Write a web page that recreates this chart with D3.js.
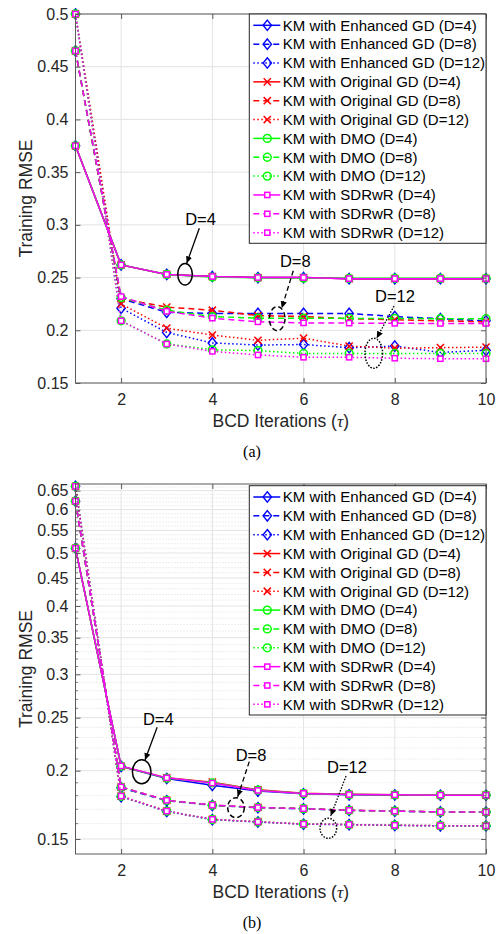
<!DOCTYPE html>
<html><head><meta charset="utf-8">
<script src="https://cdn.jsdelivr.net/npm/d3@7"></script>
<style>body{margin:0;background:#fff;} svg{display:block;}</style>
</head><body>
<svg id="c" width="503" height="934"></svg>
<script>
// ---------------- DATA ----------------
const iterations = [1,2,3,4,5,6,7,8,9,10];
const xTicks = [2,4,6,8,10];
const topYTicks = [0.15,0.2,0.25,0.3,0.35,0.4,0.45,0.5];
const botYTicks = [0.15,0.2,0.25,0.3,0.35,0.4,0.45,0.5,0.55,0.6,0.65];
const methods = ["Enhanced GD","Original GD","DMO","SDRwR"];
const depths = [4,8,12];

// (a) linear axis
const a_enh_d4  = [0.375,0.262,0.253,0.251,0.250,0.250,0.249,0.249,0.249,0.249];
const a_enh_d8  = [0.465,0.230,0.217,0.216,0.216,0.216,0.216,0.213,0.211,0.209];
const a_enh_d12 = [0.500,0.221,0.198,0.188,0.186,0.1865,0.1835,0.185,0.179,0.181];
const a_org_d4  = [0.375,0.262,0.253,0.251,0.250,0.250,0.249,0.249,0.249,0.249];
const a_org_d8  = [0.465,0.230,0.222,0.219,0.214,0.213,0.211,0.210,0.209,0.208];
const a_org_d12 = [0.500,0.225,0.202,0.1955,0.1905,0.1925,0.185,0.183,0.1835,0.184];
const a_dmo_d4  = [0.375,0.262,0.253,0.2505,0.2498,0.2495,0.2493,0.2493,0.2493,0.2493];
const a_dmo_d8  = [0.465,0.231,0.219,0.213,0.2115,0.2114,0.2113,0.2112,0.211,0.211];
const a_dmo_d12 = [0.500,0.209,0.187,0.1815,0.1807,0.178,0.178,0.178,0.178,0.178];
const a_sdr_d4  = [0.375,0.262,0.253,0.251,0.250,0.250,0.249,0.249,0.249,0.249];
const a_sdr_d8  = [0.465,0.232,0.218,0.2115,0.208,0.207,0.2068,0.2066,0.2065,0.2065];
const a_sdr_d12 = [0.500,0.209,0.187,0.180,0.1766,0.1744,0.1744,0.1735,0.173,0.173];

// (b) log axis
const b_enh_d4  = [0.510,0.2036,0.1935,0.188,0.1835,0.1814,0.1806,0.1805,0.1803,0.1803];
const b_enh_d8  = [0.622,0.1860,0.1762,0.1728,0.1711,0.1703,0.1692,0.1686,0.1681,0.1680];
const b_enh_d12 = [0.662,0.1792,0.1684,0.1627,0.1611,0.1596,0.1593,0.1588,0.1585,0.1584];
const b_org_d4  = [0.510,0.2036,0.1940,0.1905,0.1845,0.1818,0.1810,0.1806,0.1804,0.1804];
const b_org_d8  = [0.622,0.1866,0.1765,0.1730,0.1713,0.1705,0.1693,0.1687,0.1681,0.1680];
const b_org_d12 = [0.662,0.1796,0.1687,0.1629,0.1613,0.1598,0.1594,0.1589,0.1586,0.1585];
const b_dmo_d4  = [0.510,0.2038,0.1938,0.1900,0.1842,0.1816,0.1808,0.1806,0.1804,0.1804];
const b_dmo_d8  = [0.622,0.1865,0.1764,0.1729,0.1712,0.1704,0.1692,0.1686,0.1681,0.1680];
const b_dmo_d12 = [0.662,0.1795,0.1686,0.1628,0.1612,0.1597,0.1594,0.1589,0.1586,0.1585];
const b_sdr_d4  = [0.510,0.2040,0.1940,0.1898,0.1840,0.1817,0.1808,0.1806,0.1804,0.1804];
const b_sdr_d8  = [0.622,0.1867,0.1765,0.1730,0.1712,0.1704,0.1692,0.1686,0.1681,0.1680];
const b_sdr_d12 = [0.662,0.1797,0.1687,0.1629,0.1612,0.1597,0.1594,0.1589,0.1586,0.1585];

// ---------------- STYLE ----------------
const colors = {"Enhanced GD":"#0000ff","Original GD":"#ff0000","DMO":"#00ff00","SDRwR":"#ff00ff"};
const markerOf = {"Enhanced GD":"diamond","Original GD":"x","DMO":"circle","SDRwR":"square"};
const dashOf = {4:null, 8:"6,4", 12:"1.5,2.5"};
const FONT = "'Liberation Sans', Arial, Helvetica, sans-serif";

function seriesList(vals){
  const out = [];
  methods.forEach((m,i)=>depths.forEach((d,j)=>{
    out.push({method:m, depth:d, label:`KM with ${m} (D=${d})`, values: vals[i][j]});
  }));
  return out;
}
const seriesA = seriesList([[a_enh_d4,a_enh_d8,a_enh_d12],[a_org_d4,a_org_d8,a_org_d12],[a_dmo_d4,a_dmo_d8,a_dmo_d12],[a_sdr_d4,a_sdr_d8,a_sdr_d12]]);
const seriesB = seriesList([[b_enh_d4,b_enh_d8,b_enh_d12],[b_org_d4,b_org_d8,b_org_d12],[b_dmo_d4,b_dmo_d8,b_dmo_d12],[b_sdr_d4,b_sdr_d8,b_sdr_d12]]);

// annotations in data coordinates
const annA = [
  {t:"D=4", tx:3.741, ty:0.3054, x1:3.714,y1:0.2967, x2:3.438,y2:0.2635, ex:3.401,ey:0.2532, rx:7.3, ry:10.8, dash:null},
  {t:"D=8", tx:5.819, ty:0.2651, x1:5.775,y1:0.2565, x2:5.521,y2:0.2209, ex:5.422,ey:0.2110, rx:7.8, ry:12, dash:"5,3"},
  {t:"D=12",tx:8.005, ty:0.2325, x1:7.983,y1:0.2230, x2:7.604,y2:0.1924, ex:7.540,ey:0.1782, rx:8.8, ry:15, dash:"1.5,1.5"}
];
const annB = [
  {t:"D=4", tx:2.815, ty:0.2482, x1:2.790,y1:0.2400, x2:2.524,y2:0.2091, ex:2.451,ey:0.1991, rx:9.3, ry:12, dash:null},
  {t:"D=8", tx:4.848, ty:0.2132, x1:4.810,y1:0.2077, x2:4.556,y2:0.1792, ex:4.519,ey:0.1711, rx:8.3, ry:10, dash:"5,3"},
  {t:"D=12",tx:6.953, ty:0.2028, x1:6.931,y1:0.1955, x2:6.595,y2:0.1652, ex:6.543,ey:0.1569, rx:8.3, ry:10, dash:"1.5,1.5"}
];

const svg = d3.select("#c");
const defs = svg.append("defs");
defs.append("marker").attr("id","ah").attr("viewBox","0 0 10 10").attr("refX",10).attr("refY",5)
  .attr("markerWidth",7).attr("markerHeight",7).attr("markerUnits","userSpaceOnUse").attr("orient","auto")
  .append("path").attr("d","M0,0.5 L10,5 L0,9.5 Z").attr("fill","#000");

function drawMarker(g, type, color){
  if(type==="diamond"){
    g.append("path").attr("d","M0,-5.2 L4.2,0 L0,5.2 L-4.2,0 Z").attr("fill","none").attr("stroke",color).attr("stroke-width",1.4);
  } else if(type==="x"){
    g.append("path").attr("d","M-3.6,-3.6 L3.6,3.6 M-3.6,3.6 L3.6,-3.6").attr("stroke",color).attr("stroke-width",1.5);
  } else if(type==="circle"){
    g.append("circle").attr("r",3.9).attr("fill","none").attr("stroke",color).attr("stroke-width",1.5);
  } else {
    g.append("rect").attr("x",-2.6).attr("y",-2.6).attr("width",5.2).attr("height",5.2).attr("fill","#fff").attr("stroke",color).attr("stroke-width",1.5);
  }
}

function panel(cfg){
  const L=75.5, R=486, T=cfg.top, B=cfg.bottom;
  const x = d3.scaleLinear().domain([1,10]).range([L,R]);
  const y = (cfg.log? d3.scaleLog() : d3.scaleLinear()).domain(cfg.domain).range([B,T]);
  const g = svg.append("g");
  g.append("rect").attr("x",L).attr("y",T).attr("width",R-L).attr("height",B-T).attr("fill","#fff");
  // minor grid
  if(cfg.minor){
    g.selectAll(".mg").data(cfg.minor).join("line")
      .attr("x1",L).attr("x2",R).attr("y1",d=>y(d)).attr("y2",d=>y(d))
      .attr("stroke","#d4d4d4").attr("stroke-width",0.8).attr("stroke-dasharray","1,2");
  }
  // major grid
  g.selectAll(".gy").data(cfg.yTicks).join("line")
    .attr("x1",L).attr("x2",R).attr("y1",d=>y(d)).attr("y2",d=>y(d))
    .attr("stroke","#e3e3e3").attr("stroke-width",1);
  g.selectAll(".gx").data(xTicks).join("line")
    .attr("y1",T).attr("y2",B).attr("x1",d=>x(d)).attr("x2",d=>x(d))
    .attr("stroke","#e3e3e3").attr("stroke-width",1);

  // series
  const line = d3.line().x((d,i)=>x(iterations[i])).y(d=>y(d));
  cfg.series.forEach(s=>{
    const c = colors[s.method];
    const sg = g.append("g");
    sg.append("path").attr("d",line(s.values)).attr("fill","none").attr("stroke",c)
      .attr("stroke-width",1.5).attr("stroke-dasharray",dashOf[s.depth]);
    s.values.forEach((v,i)=>{
      drawMarker(sg.append("g").attr("transform",`translate(${x(iterations[i])},${y(v)})`), markerOf[s.method], c);
    });
  });

  // axes (box)
  const ax = g.append("g");
  ax.append("rect").attr("x",L).attr("y",T).attr("width",R-L).attr("height",B-T)
    .attr("fill","none").attr("stroke","#5a5a5a").attr("stroke-width",1);
  const yAxis = d3.axisLeft(y).tickValues(cfg.yTicks).tickSize(-5).tickPadding(7)
    .tickFormat(d=>d3.format("")(+d.toFixed(2)));
  const ya = ax.append("g").attr("transform",`translate(${L},0)`).call(yAxis);
  const xAxis = d3.axisBottom(x).tickValues(xTicks).tickSize(-5).tickPadding(11).tickFormat(d3.format("d"));
  const xa = ax.append("g").attr("transform",`translate(0,${B})`).call(xAxis);
  [ya,xa].forEach(a=>{
    a.select(".domain").remove();
    a.selectAll(".tick line").attr("stroke","#5a5a5a");
    a.selectAll(".tick text").attr("fill","#262626").attr("font-family",FONT).attr("font-size",16);
  });
  // mirrored ticks
  ax.append("g").attr("transform",`translate(${R},0)`).call(d3.axisRight(y).tickValues(cfg.yTicks).tickSize(-5).tickFormat(""))
    .call(a=>{a.select(".domain").remove(); a.selectAll(".tick line").attr("stroke","#5a5a5a");});
  ax.append("g").attr("transform",`translate(0,${T})`).call(d3.axisTop(x).tickValues(xTicks).tickSize(-5).tickFormat(""))
    .call(a=>{a.select(".domain").remove(); a.selectAll(".tick line").attr("stroke","#5a5a5a");});
  if(cfg.minor){
    const mt = cfg.minor;
    ax.selectAll(".mtl").data(mt).join("line").attr("x1",L).attr("x2",L+2.5).attr("y1",d=>y(d)).attr("y2",d=>y(d)).attr("stroke","#5a5a5a").attr("stroke-width",0.8);
    ax.selectAll(".mtr").data(mt).join("line").attr("x1",R).attr("x2",R-2.5).attr("y1",d=>y(d)).attr("y2",d=>y(d)).attr("stroke","#5a5a5a").attr("stroke-width",0.8);
  }

  // axis labels
  g.append("text").attr("x",(L+R)/2).attr("y",B+38).attr("dy","0.35em").attr("text-anchor","middle")
    .attr("font-family",FONT).attr("font-size",17.5).attr("fill","#262626")
    .call(t=>{t.append("tspan").text("BCD Iterations (");
      t.append("tspan").attr("font-family","'Liberation Serif', 'Times New Roman', serif").attr("font-style","italic").text("τ");
      t.append("tspan").text(")");});
  g.append("text").attr("transform",`translate(25.8,${(T+B)/2}) rotate(-90)`).attr("dy","0.35em")
    .attr("text-anchor","middle").attr("font-family",FONT).attr("font-size",17.5).attr("fill","#262626")
    .text("Training RMSE");

  // annotations
  cfg.ann.forEach(a=>{
    g.append("ellipse").attr("cx",x(a.ex)).attr("cy",y(a.ey)).attr("rx",a.rx).attr("ry",a.ry)
      .attr("fill","none").attr("stroke","#000").attr("stroke-width",1.5).attr("stroke-dasharray",a.dash);
    g.append("line").attr("x1",x(a.x1)).attr("y1",y(a.y1)).attr("x2",x(a.x2)).attr("y2",y(a.y2))
      .attr("stroke","#000").attr("stroke-width",1.3).attr("stroke-dasharray",a.dash).attr("marker-end","url(#ah)");
    g.append("text").attr("x",x(a.tx)).attr("y",y(a.ty)).attr("dy","0.35em").attr("text-anchor","middle")
      .attr("font-family",FONT).attr("font-size",16.5).attr("fill","#000").text(a.t);
  });

  // legend
  const lx = 249.3, lw = R - lx, ly = T + cfg.legendOffset, rowH = 18.85, lh = 229.3;
  const lg = g.append("g");
  lg.append("rect").attr("x",lx).attr("y",ly).attr("width",lw).attr("height",lh)
    .attr("fill","#fff").attr("stroke","#262626").attr("stroke-width",1);
  cfg.series.forEach((s,i)=>{
    const cy = ly + 11.3 + i*rowH;
    const c = colors[s.method];
    lg.append("line").attr("x1",lx+4).attr("x2",lx+31).attr("y1",cy).attr("y2",cy)
      .attr("stroke",c).attr("stroke-width",1.5).attr("stroke-dasharray",dashOf[s.depth]);
    drawMarker(lg.append("g").attr("transform",`translate(${lx+18},${cy})`), markerOf[s.method], c);
    lg.append("text").attr("x",lx+33.5).attr("y",cy).attr("dy","0.35em").attr("font-family",FONT)
      .attr("font-size",15).attr("fill","#000").text(s.label);
  });

  // caption
  svg.append("text").attr("x",252).attr("y",cfg.captionY).attr("dy","0.35em").attr("text-anchor","middle")
    .attr("font-family","'Liberation Serif', 'Times New Roman', serif").attr("font-size",16).attr("fill","#000")
    .text(cfg.caption);
}

const minorB = d3.range(15,67).map(v=>v/100).filter(v=>Math.round(v*100)%5!==0);

panel({top:14, bottom:383, log:false, domain:[0.15,0.5], yTicks:topYTicks, series:seriesA, ann:annA,
       legendOffset:0, caption:"(a)", captionY:451});
panel({top:484, bottom:854, log:true, domain:[0.1408,0.6685], yTicks:botYTicks, minor:minorB, series:seriesB, ann:annB,
       legendOffset:1.7, caption:"(b)", captionY:922});
</script></body></html>
